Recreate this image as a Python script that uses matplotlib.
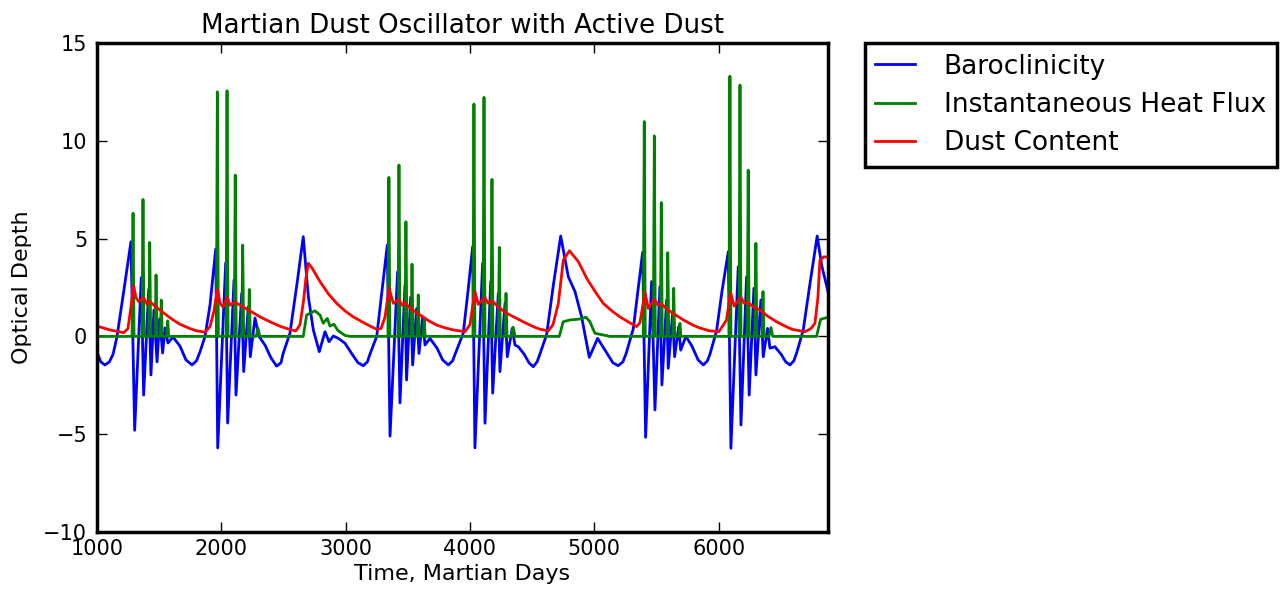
import matplotlib
matplotlib.use('Agg')
import matplotlib.pyplot as plt

# Baroclinicity (blue)
baro_t = [1000, 1030, 1064, 1100, 1130, 1161, 1215, 1273, 1303, 1356, 1375, 1416, 1434, 1458, 1483,
          1504, 1528, 1547, 1571, 1611, 1668, 1715, 1764, 1800, 1828, 1869, 1909, 1955, 1971,
          2035, 2051, 2102, 2118, 2164, 2180, 2217, 2233, 2271, 2303, 2351, 2400, 2445, 2480,
          2496, 2552, 2609, 2659, 2700, 2740, 2788, 2834, 2866, 2901, 2941, 2995, 3051, 3100,
          3142, 3175, 3196, 3250, 3290, 3335, 3357, 3418, 3437, 3477, 3490, 3523, 3539, 3571,
          3590, 3620, 3638, 3678, 3735, 3780, 3826, 3860, 3887, 3946, 3984, 4022, 4040, 4102,
          4121, 4167, 4183, 4228, 4241, 4282, 4300, 4340, 4362, 4389, 4435, 4475, 4509, 4540,
          4563, 4617, 4668, 4730, 4791, 4845, 4898, 4960, 5027, 5086, 5150, 5193, 5230, 5255,
          5314, 5352, 5389, 5413, 5461, 5488, 5528, 5544, 5582, 5595, 5630, 5646, 5679, 5695,
          5737, 5786, 5835, 5877, 5910, 5931, 5984, 6027, 6078, 6099, 6158, 6180, 6225, 6246,
          6284, 6300, 6340, 6359, 6394, 6413, 6453, 6501, 6540, 6574, 6605, 6630, 6681, 6735,
          6793, 6830, 6880]
baro = [-0.8, -1.3, -1.46, -1.3, -0.9, 0.0, 2.3, 4.84, -4.8, 3.0, -3.0, 2.4, -1.97, 1.35, -1.3,
        0.9, -0.85, 0.43, -0.34, -0.03, -0.5, -1.2, -1.46, -1.25, -0.8, 0.0, 1.6, 4.47, -5.7,
        3.75, -4.43, 2.88, -3.0, 2.2, -1.8, 1.5, -1.04, 0.94, 0.0, -0.44, -1.1, -1.52, -1.35,
        -0.9, 0.16, 2.7, 5.1, 2.03, 0.33, -0.78, 0.24, -0.27, 0.02, -0.1, -0.35, -0.9, -1.35,
        -1.5, -1.3, -0.9, 0.0, 2.2, 4.67, -5.1, 3.3, -3.4, 2.6, -2.23, 2.0, -1.46, 1.43,
        -0.87, 1.0, -0.44, -0.1, -0.6, -1.2, -1.46, -1.25, -0.8, 0.16, 2.3, 4.59, -5.7, 3.74,
        -4.44, 2.8, -2.9, 2.2, -1.8, 1.7, -1.04, 0.41, -0.44, -0.53, -0.9, -1.35, -1.55, -1.3,
        -0.9, 0.1, 2.5, 5.13, 3.05, 2.29, 1.0, -1.07, -0.1, -0.7, -1.35, -1.5, -1.3, -0.9,
        0.4, 2.4, 4.3, -5.16, 2.8, -3.76, 2.54, -2.48, 1.86, -1.63, 1.18, -1.04, 0.5, -0.7,
        0.0, -0.5, -1.2, -1.46, -1.25, -0.9, 0.3, 2.3, 4.33, -5.72, 3.56, -4.53, 3.05, -3.0,
        2.46, -1.97, 1.86, -1.04, 0.41, -0.6, -0.53, -0.9, -1.3, -1.46, -1.25, -0.8, 0.33, 2.7,
        5.13, 3.6, 2.3]

# Instantaneous heat flux (green)
flux_t = [1000, 1282, 1290, 1298, 1362, 1370, 1378, 1416, 1424, 1432, 1467, 1475, 1483,
          1509, 1517, 1525, 1561, 1569, 1577, 1960, 1968, 1976, 2038, 2046, 2054, 2104, 2112,
          2120, 2164, 2172, 2180, 2217, 2225, 2233, 2280, 2295, 2310, 2659, 2686, 2753, 2794,
          2820, 2852, 2874, 2906, 2938, 2995, 3035, 3340, 3348, 3356, 3421, 3429, 3437, 3477,
          3485, 3493, 3526, 3534, 3542, 3576, 3584, 3592, 3624, 3632, 3640, 4024, 4032, 4040,
          4105, 4113, 4121, 4169, 4177, 4185, 4228, 4236, 4244, 4282, 4290, 4298, 4333, 4348,
          4363, 4718, 4750, 4804, 4885, 4933, 4965, 5005, 5072, 5126, 5394, 5402, 5410, 5475,
          5483, 5491, 5531, 5539, 5547, 5583, 5591, 5599, 5631, 5639, 5647, 5681, 5689, 5697,
          6083, 6091, 6099, 6164, 6172, 6180, 6230, 6238, 6246, 6292, 6300, 6308, 6349, 6357,
          6365, 6406, 6421, 6436, 6788, 6820, 6863, 6880]
flux = [0, 0, 6.3, 0, 0, 7.0, 0, 0, 4.8, 0, 0, 3.14, 0,
        0, 1.86, 0, 0, 0.8, 0, 0, 12.5, 0, 0, 12.56, 0, 0, 8.25,
        0, 0, 4.67, 0, 0, 2.4, 0, 0, 0.42, 0, 0, 1.09, 1.31, 1.09,
        0.67, 0.92, 0.53, 0.62, 0.3, 0.05, 0, 0, 8.13, 0, 0, 8.76, 0, 0,
        5.86, 0, 0, 3.69, 0, 0, 2.12, 0, 0, 0.87, 0, 0, 11.88, 0,
        0, 12.22, 0, 0, 8.03, 0, 0, 4.55, 0, 0, 2.2, 0, 0, 0.47,
        0, 0, 0.75, 0.84, 0.89, 0.98, 0.75, 0.16, 0.07, 0, 0, 10.98, 0, 0,
        10.25, 0, 0, 6.84, 0, 0, 4.28, 0, 0, 2.46, 0, 0, 0.67, 0,
        0, 13.3, 0, 0, 12.85, 0, 0, 8.5, 0, 0, 4.76, 0, 0, 2.29,
        0, 0, 0.45, 0, 0, 0.87, 0.95, 0.95]

# Dust content (red)
dust_t = [1000, 1105, 1215, 1249, 1273, 1295, 1313, 1335, 1375, 1402, 1426, 1466, 1536, 1603,
          1668, 1748, 1804, 1869, 1909, 1941, 1968, 1990, 2014, 2046, 2070, 2110, 2150, 2231,
          2311, 2391, 2472, 2552, 2600, 2633, 2661, 2681, 2700, 2729, 2794, 2858, 2928, 2995,
          3061, 3131, 3196, 3250, 3285, 3317, 3349, 3384, 3429, 3453, 3477, 3517, 3598, 3662,
          3732, 3799, 3866, 3960, 4000, 4016, 4040, 4067, 4121, 4145, 4179, 4241, 4305, 4376,
          4443, 4509, 4563, 4630, 4668, 4711, 4751, 4800, 4872, 4939, 5006, 5072, 5142, 5206,
          5271, 5341, 5367, 5383, 5408, 5434, 5483, 5513, 5539, 5585, 5634, 5714, 5793, 5841,
          5922, 6002, 6064, 6096, 6125, 6180, 6204, 6238, 6284, 6333, 6398, 6466, 6533, 6591,
          6695, 6743, 6775, 6799, 6815, 6847, 6880]
dust = [0.53, 0.33, 0.19, 0.4, 1.5, 2.58, 2.0, 1.78, 1.98, 1.65, 1.78, 1.55, 1.2, 0.88,
        0.62, 0.4, 0.28, 0.22, 0.5, 1.3, 2.4, 1.7, 1.5, 2.0, 1.6, 1.75, 1.6, 1.3,
        1.0, 0.75, 0.52, 0.35, 0.28, 0.6, 1.8, 3.0, 3.74, 3.5, 2.8, 2.2, 1.69, 1.3,
        1.0, 0.75, 0.53, 0.36, 0.4, 1.0, 2.46, 1.69, 1.9, 1.6, 1.72, 1.45, 1.1, 0.82,
        0.58, 0.44, 0.33, 0.24, 0.6, 1.3, 2.29, 1.64, 1.98, 1.7, 1.81, 1.43, 1.15, 0.92,
        0.7, 0.5, 0.37, 0.28, 0.6, 1.69, 3.9, 4.38, 3.82, 2.97, 2.3, 1.69, 1.3, 1.0,
        0.75, 0.5, 0.7, 1.3, 2.24, 1.43, 1.9, 1.6, 1.66, 1.4, 1.18, 0.85, 0.58, 0.45,
        0.29, 0.24, 0.84, 2.24, 1.55, 2.0, 1.7, 1.72, 1.5, 1.35, 1.02, 0.75, 0.53, 0.36,
        0.24, 0.4, 0.67, 2.0, 3.9, 4.07, 4.05]

fig = plt.figure(figsize=(12.8, 5.95), dpi=100)
ax = fig.add_axes([97 / 1280, 1 - 532 / 595, (828 - 97) / 1280, (532 - 43) / 595])
ax.plot(baro_t, baro, color='b', lw=2.0, label='Baroclinicity')
ax.plot(flux_t, flux, color='g', lw=2.0, label='Instantaneous Heat Flux')
ax.plot(dust_t, dust, color='r', lw=2.0, label='Dust Content')

ax.set_xlim(1000, 6880)
ax.set_ylim(-10, 15)
ax.set_xticks(range(1000, 7000, 1000))
ax.set_yticks(range(-10, 20, 5))
ax.tick_params(direction='in', top=True, right=True, length=7, width=1, labelsize=15)
ax.tick_params(axis='y', pad=7)
ax.tick_params(axis='x', pad=5)
for s in ax.spines.values():
    s.set_linewidth(2.5)

ax.set_title('Martian Dust Oscillator with Active Dust', fontsize=18.8, pad=7)
ax.set_xlabel('Time, Martian Days', fontsize=16, labelpad=4)
ax.set_ylabel('Optical Depth', fontsize=16, labelpad=8)

leg = ax.legend(bbox_to_anchor=(1.05, 1), loc='upper left', borderaxespad=0, fontsize=19,
                fancybox=False, edgecolor='k', framealpha=1, handlelength=1.5,
                handletextpad=1.1, labelspacing=0.47, borderpad=0.4)
leg.get_frame().set_linewidth(2.5)

fig.savefig('out.png', dpi=100)
